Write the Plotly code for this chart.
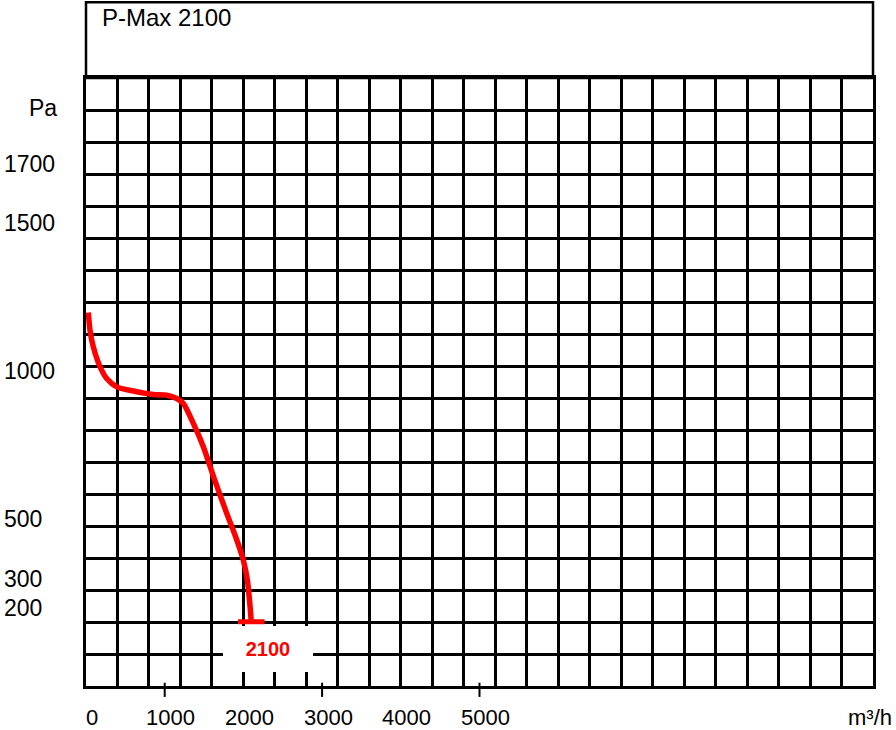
import plotly.graph_objects as go

# ---- data ----
flow = [29, 51, 93, 178, 263, 390, 601, 855, 1026, 1153, 1237, 1364, 1491, 1627,
        1788, 1916, 1999, 2050, 2085, 2100]            # m³/h
pressure = [1198, 1138, 1082, 1015, 975, 947, 933, 921, 919, 908, 891, 824, 745, 639,
            520, 430, 362, 295, 205, 154]             # Pa

y_tick_values = [1700, 1500, 1000, 500, 300, 200]
y_tick_labels = ["1700", "1500", "1000", "500", "300", "200"]
x_tick_values = [0, 1000, 2000, 3000, 4000, 5000]
x_tick_labels = ["0", "1000", "2000", "3000", "4000", "5000"]
x_tick_marks = [1000, 3000, 5000]

title_text = "P-Max 2100"
end_label = "2100"
x_unit = "m³/h"
y_unit = "Pa"

# ---- axis geometry ----
X_RANGE = [0, 10000]
X_GRID = 400
Y_RANGE = [-63, 1990]
Y_ROWS = 19
Y_GRID = (Y_RANGE[1] - Y_RANGE[0]) / Y_ROWS

FONT = "Liberation Sans, Arial, Helvetica, sans-serif"
LW = 2.5

fig = go.Figure()
fig.add_trace(go.Scatter(
    x=flow, y=pressure, mode="lines",
    line=dict(color="#ff0000", width=5.5, shape="spline", smoothing=0.7),
    hoverinfo="skip", showlegend=False,
))
# end cap at final point
fig.add_trace(go.Scatter(
    x=[flow[-1]], y=[pressure[-1]], mode="markers",
    marker=dict(symbol="line-ew-open", size=19, color="#ff0000",
                line=dict(color="#ff0000", width=5)),
    hoverinfo="skip", showlegend=False,
))

fig.update_layout(
    width=896, height=730, autosize=False,
    margin=dict(l=86, r=23, t=78, b=44, pad=0),
    paper_bgcolor="white", plot_bgcolor="white",
    font=dict(family=FONT, size=22, color="black"),
    showlegend=False,
    xaxis=dict(range=X_RANGE, tick0=0, dtick=X_GRID, showticklabels=False, ticks="",
               showgrid=True, gridcolor="black", gridwidth=LW, zeroline=False,
               showline=True, linecolor="black", linewidth=LW, mirror=True, fixedrange=True),
    yaxis=dict(range=Y_RANGE, tick0=Y_RANGE[0], dtick=Y_GRID, showticklabels=False, ticks="",
               showgrid=True, gridcolor="black", gridwidth=LW, zeroline=False,
               showline=True, linecolor="black", linewidth=LW, mirror=True, fixedrange=True),
)

# title box above the grid
fig.add_shape(type="rect", xref="paper", yref="paper", x0=0, x1=1, y0=1, y1=1.1245,
              line=dict(color="black", width=LW), fillcolor="white", layer="below")
fig.add_annotation(text=title_text, xref="paper", yref="paper", x=0.018, y=1.0998,
                   xanchor="left", yanchor="middle", showarrow=False,
                   font=dict(size=24, family=FONT, color="black"))

# y labels (left aligned at the figure edge)
for v, t in zip(y_tick_values, y_tick_labels):
    fig.add_annotation(text=t, xref="paper", yref="y", x=-0.107, y=v,
                       xanchor="left", yanchor="middle", showarrow=False,
                       font=dict(size=23, family=FONT, color="black"))
fig.add_annotation(text=y_unit, xref="paper", yref="paper", x=-0.0547, y=0.950,
                   xanchor="center", yanchor="middle", showarrow=False,
                   font=dict(size=23, family=FONT, color="black"))

# x labels
for v, t in zip(x_tick_values, x_tick_labels):
    fig.add_annotation(text=t, xref="x", yref="paper", x=v, y=-0.051, xshift=6,
                       xanchor="center", yanchor="middle", showarrow=False,
                       font=dict(size=22, family=FONT, color="black"))
fig.add_annotation(text=x_unit, xref="paper", yref="paper", x=0.9966, y=-0.051,
                   xanchor="center", yanchor="middle", showarrow=False,
                   font=dict(size=22, family=FONT, color="black"))

# short tick marks below the axis
for v in x_tick_marks:
    fig.add_shape(type="line", xref="x", yref="paper", x0=v, x1=v, y0=0.0054, y1=-0.018,
                  line=dict(color="black", width=2))

# red end label on a white patch
fig.add_annotation(text="<b>" + end_label + "</b>", xref="x", yref="y",
                   x=flow[-1], y=pressure[-1], xshift=17, yshift=-27,
                   showarrow=False, width=90, height=46, bgcolor="white",
                   borderpad=0, borderwidth=0,
                   font=dict(size=20, family=FONT, color="#ff0000"))

fig.write_html("out.html", config={"displayModeBar": False},
               post_script="document.body.style.margin='0px';")
